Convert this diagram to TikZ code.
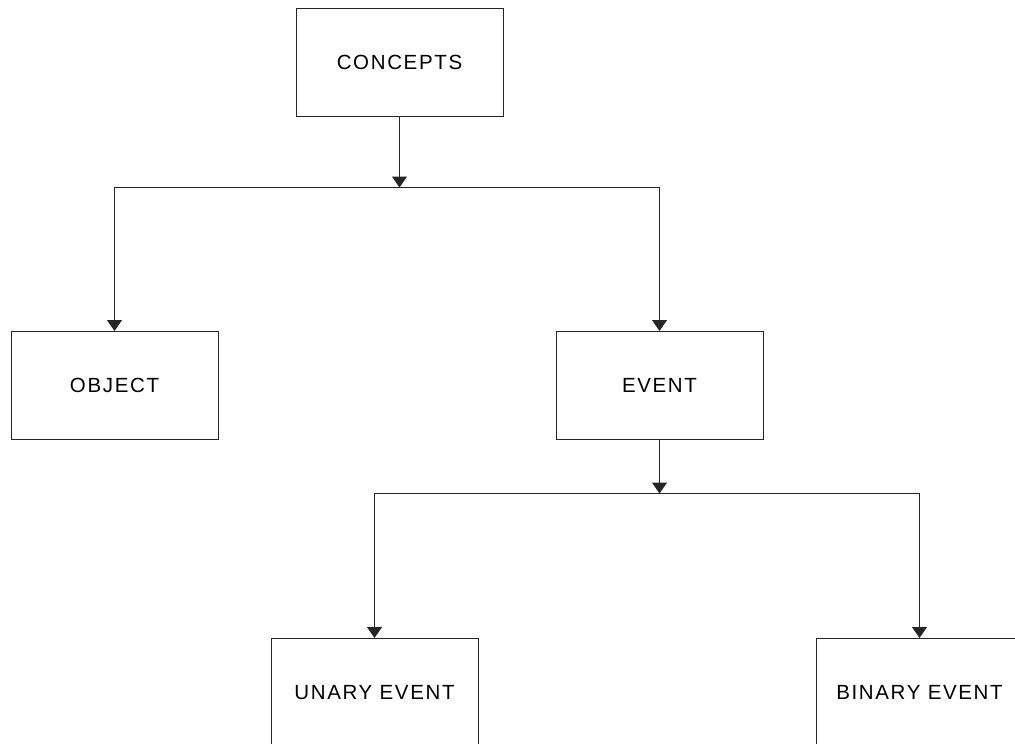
\documentclass[tikz,border=0pt]{standalone}
\usepackage{fontspec}
\setmainfont{Liberation Sans}[LetterSpace=8]
\usetikzlibrary{arrows.meta}

\tikzset{
  box/.style={draw=black!85, line width=1pt, minimum width=207pt, minimum height=108pt,
    inner sep=0pt, font=\fontsize{20.5}{24}\selectfont},
  link/.style={draw=black!85, line width=1pt},
  arrowlink/.style={link, -{Triangle[width=15pt,length=11pt]}}
}

\begin{document}
\begin{tikzpicture}[x=1pt, y=-1pt]
  \useasboundingbox (0,0) rectangle (1015,744);

  % concept boxes
  \node[box] (concepts) at (399.5,62.5)  {CONCEPTS};
  \node[box] (object)   at (114.5,385.5) {OBJECT};
  \node[box] (event)    at (659.5,385.5) {EVENT};
  \node[box] (unary)    at (374.5,692.5) {UNARY EVENT};
  \node[box] (binary)   at (919.5,692.5) {BINARY EVENT};

  % branching points
  \coordinate (split1) at (399.5,187.5);
  \coordinate (split2) at (659.5,493.5);

  % concepts -> object / event
  \draw[arrowlink] (concepts.south) -- (split1);
  \draw[arrowlink] (split1) -| (object.north);
  \draw[arrowlink] (split1) -| (event.north);

  % event -> unary / binary
  \draw[arrowlink] (event.south) -- (split2);
  \draw[arrowlink] (split2) -| (unary.north);
  \draw[arrowlink] (split2) -| (binary.north);
\end{tikzpicture}
\end{document}
